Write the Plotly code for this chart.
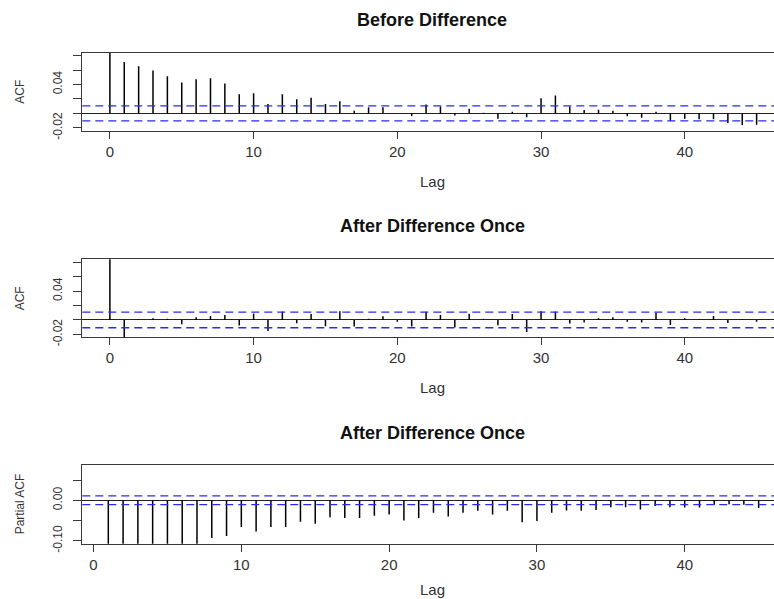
import plotly.graph_objects as go

# ---------------- data ----------------
lags_acf = list(range(0, 46))
acf_before = [1.0, 0.0711, 0.0651, 0.0592, 0.0514, 0.0427, 0.0472, 0.0486, 0.0413, 0.0266,
              0.0280, 0.0128, 0.0266, 0.0197, 0.0215, 0.0128, 0.0169, 0.0036, 0.0083, 0.0083,
              0.0005, -0.0037, 0.0124, 0.0096, -0.0028, 0.0064, 0.0008, -0.0073, 0.0023, -0.0055,
              0.0211, 0.0248, 0.0096, 0.0046, 0.0050, 0.0037, -0.0041, -0.0060, 0.0023, -0.0106,
              -0.0073, -0.0083, -0.0083, -0.0133, -0.0160, -0.0156]
acf_after = [1.0, -0.0240, 0.0005, 0.0023, 0.0018, -0.0059, 0.0036, 0.0054, 0.0068, -0.0077,
             0.0090, -0.0153, 0.0117, -0.0045, 0.0081, -0.0086, 0.0122, -0.0090, 0.0018, 0.0050,
             -0.0023, -0.0090, 0.0113, 0.0068, -0.0104, 0.0086, 0.0018, -0.0072, 0.0081, -0.0167,
             0.0122, 0.0117, -0.0050, -0.0036, 0.0023, 0.0036, -0.0023, -0.0036, 0.0099, -0.0068,
             0.0023, 0.0005, 0.0054, -0.0041, 0.0005, -0.0023]
lags_pacf = list(range(1, 46))
pacf_after = [-0.20, -0.17, -0.15, -0.14, -0.13, -0.12, -0.11, -0.093, -0.088, -0.066,
              -0.077, -0.066, -0.066, -0.053, -0.058, -0.042, -0.044, -0.044, -0.038, -0.035,
              -0.050, -0.044, -0.031, -0.040, -0.031, -0.026, -0.035, -0.026, -0.054, -0.051,
              -0.031, -0.025, -0.026, -0.024, -0.017, -0.017, -0.023, -0.014, -0.017, -0.018,
              -0.018, -0.011, -0.010, -0.011, -0.019]
ci_before = 0.0104
ci_after = 0.0108

titles = ["Before Difference", "After Difference Once", "After Difference Once"]
ylabels = ["ACF", "ACF", "Partial ACF"]
x_ticks = [0, 10, 20, 30, 40]
y_ticks_acf = [-0.02, 0.0, 0.02, 0.04, 0.06, 0.08]
y_text_acf = ["-0.02", "", "", "0.04", "", ""]
y_ticks_pacf = [-0.10, -0.05, 0.0, 0.05]
y_text_pacf = ["-0.10", "", "0.00", ""]

# ---------------- layout geometry ----------------
W, H = 774, 599
def fy(px):
    return 1 - px / H
def fx(px):
    return px / W

panels = [
    dict(lags=lags_acf, vals=acf_before, ci=ci_before, top=52.7, bot=130.7,
         xr=[-1.92, 46.21], yr=[-0.024, 0.084], yt=y_ticks_acf, ytt=y_text_acf),
    dict(lags=lags_acf, vals=acf_after, ci=ci_after, top=259.3, bot=337.3,
         xr=[-1.92, 46.21], yr=[-0.024, 0.084], yt=y_ticks_acf, ytt=y_text_acf),
    dict(lags=lags_pacf, vals=pacf_after, ci=ci_after, top=465.0, bot=543.7,
         xr=[-0.76, 46.04], yr=[-0.1072, 0.0872], yt=y_ticks_pacf, ytt=y_text_pacf),
]
title_y = [20, 226, 433]
lag_y = [181, 387, 589]
left_px = 82.3

fig = go.Figure()
shapes = []
annotations = []
hfont = "Liberation Sans, Arial"
xtickfont = dict(family=hfont, size=15, color="#333333")
ytickfont = dict(family=hfont, size=12, color="#333333")
boxcol = "#3a3a3a"

for i, p in enumerate(panels):
    n = "" if i == 0 else str(i + 1)
    xs, ys = [], []
    for lag, v in zip(p["lags"], p["vals"]):
        xs += [lag, lag, None]
        ys += [0, v, None]
    fig.add_trace(go.Scatter(x=xs, y=ys, mode="lines", xaxis="x" + n, yaxis="y" + n,
                             line=dict(color="black", width=1.5), hoverinfo="skip",
                             showlegend=False))
    fig.layout["xaxis" + n] = dict(
        domain=[fx(left_px), 1], range=p["xr"], anchor="y" + n,
        showgrid=False, zeroline=False, showline=True, mirror=True,
        linecolor=boxcol, linewidth=1.3, ticks="outside", ticklen=7,
        tickwidth=1.3, tickcolor=boxcol, tickvals=x_ticks, tickfont=xtickfont,
        ticklabelstandoff=0, automargin=False)
    fig.layout["yaxis" + n] = dict(
        domain=[fy(p["bot"]), fy(p["top"])], range=p["yr"], anchor="x" + n,
        showgrid=False, zeroline=True, zerolinecolor="#222222", zerolinewidth=1.2,
        showline=True, linecolor=boxcol, linewidth=1.3, ticks="outside", ticklen=8,
        tickwidth=1.3, tickcolor=boxcol, tickvals=p["yt"], ticktext=p["ytt"],
        tickangle=-90, tickfont=ytickfont, ticklabelstandoff=6, automargin=False)
    for s in (1, -1):
        shapes.append(dict(type="line", xref=("x" + n + " domain"), yref="y" + n,
                           x0=0, x1=1, y0=s * p["ci"], y1=s * p["ci"],
                           line=dict(color="#2a2af0", width=1.3, dash="8px,5px")))
    annotations.append(dict(text="<b>" + titles[i] + "</b>", x=fx(432), y=fy(title_y[i]),
                            xref="paper", yref="paper", showarrow=False,
                            xanchor="center", yanchor="middle",
                            font=dict(family=hfont, size=18, color="#111111")))
    annotations.append(dict(text="Lag", x=fx(432), y=fy(lag_y[i]), xref="paper", yref="paper",
                            showarrow=False, xanchor="center", yanchor="middle",
                            font=dict(family=hfont, size=15, color="#333333")))
    annotations.append(dict(text=ylabels[i], x=fx(20), y=fy((p["top"] + p["bot"]) / 2),
                            xref="paper", yref="paper", showarrow=False, textangle=-90,
                            xanchor="center", yanchor="middle",
                            font=dict(family=hfont, size=12, color="#333333")))

fig.update_layout(width=W, height=H, margin=dict(l=0, r=0, t=0, b=0, autoexpand=False),
                  paper_bgcolor="white", plot_bgcolor="white",
                  shapes=shapes, annotations=annotations, showlegend=False)
fig.write_html("out.html")
